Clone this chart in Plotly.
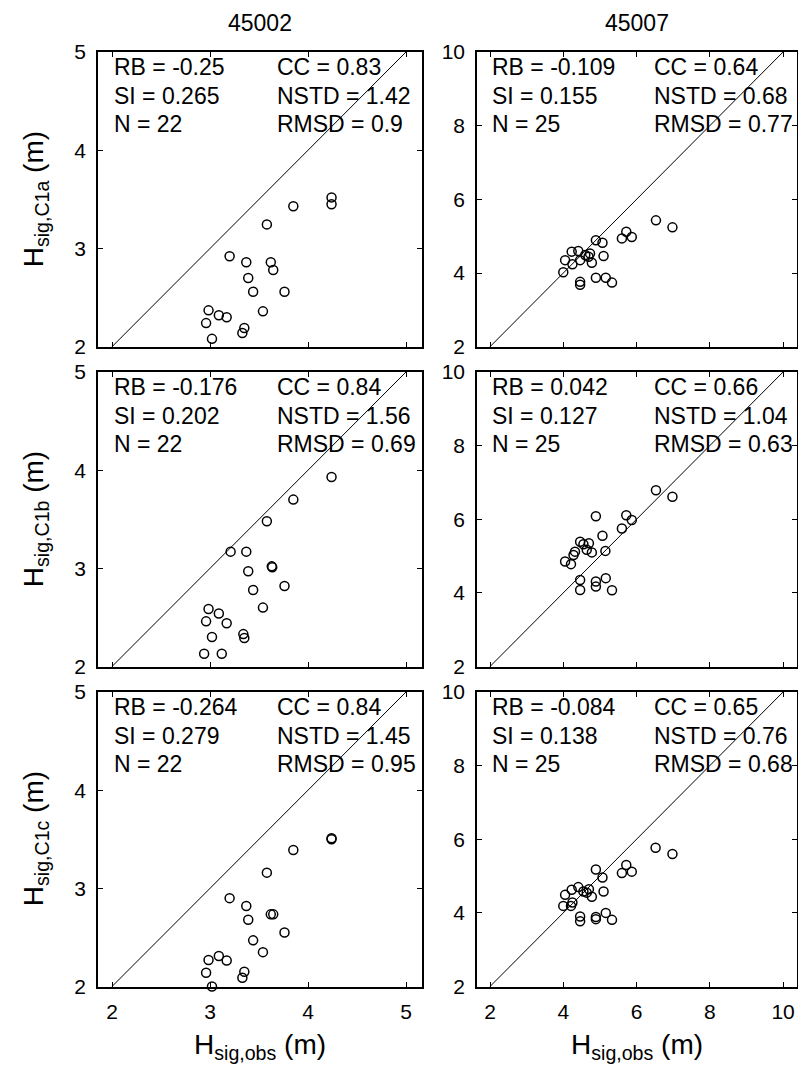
import plotly.graph_objects as go

# ---------------- data ----------------
stations = ["45002", "45007"]
runs = ["C1a", "C1b", "C1c"]

obs_45002_c1a = [4.24, 4.24, 3.85, 3.58, 3.20, 3.37, 3.62, 3.645, 3.39, 3.44, 3.76, 3.54, 2.985, 3.09, 3.17, 2.96, 3.35, 3.33, 3.02]
mod_45002_c1a = [3.52, 3.45, 3.43, 3.245, 2.92, 2.86, 2.86, 2.78, 2.70, 2.56, 2.56, 2.36, 2.37, 2.32, 2.30, 2.24, 2.19, 2.14, 2.08]

obs_45002_c1b = [4.24, 3.85, 3.58, 3.21, 3.37, 3.63, 3.635, 3.39, 3.44, 3.76, 3.54, 2.985, 3.09, 3.17, 2.96, 3.02, 3.34, 3.35, 2.94, 3.12]
mod_45002_c1b = [3.93, 3.70, 3.48, 3.17, 3.17, 3.02, 3.01, 2.97, 2.78, 2.82, 2.60, 2.585, 2.54, 2.44, 2.46, 2.30, 2.33, 2.29, 2.13, 2.13]

obs_45002_c1c = [4.24, 4.24, 3.85, 3.58, 3.20, 3.37, 3.39, 3.62, 3.645, 3.76, 3.44, 3.54, 2.985, 3.09, 3.17, 2.96, 3.35, 3.33, 3.02]
mod_45002_c1c = [3.51, 3.50, 3.39, 3.16, 2.90, 2.82, 2.68, 2.735, 2.735, 2.55, 2.47, 2.35, 2.27, 2.31, 2.265, 2.14, 2.15, 2.09, 2.00]

obs_45007_c1a = [6.53, 6.98, 5.72, 5.60, 5.87, 4.89, 5.07, 5.10, 4.05, 4.23, 4.41, 4.46, 4.60, 4.69, 4.73, 4.25, 4.78, 4.00, 4.46, 4.46, 4.89, 5.16, 5.33]
mod_45007_c1a = [5.43, 5.24, 5.12, 4.94, 4.98, 4.89, 4.82, 4.46, 4.35, 4.58, 4.60, 4.35, 4.49, 4.44, 4.53, 4.24, 4.28, 4.02, 3.76, 3.68, 3.87, 3.87, 3.74]

obs_45007_c1b = [6.53, 6.98, 4.89, 5.72, 5.60, 5.87, 5.07, 4.46, 4.55, 4.70, 4.64, 4.78, 5.15, 4.28, 4.05, 4.21, 4.32, 4.46, 4.46, 4.89, 4.89, 5.16, 5.33]
mod_45007_c1b = [6.79, 6.61, 6.08, 6.11, 5.75, 5.98, 5.55, 5.39, 5.32, 5.35, 5.17, 5.10, 5.14, 5.03, 4.85, 4.78, 5.12, 4.35, 4.08, 4.31, 4.17, 4.40, 4.07]

obs_45007_c1c = [6.52, 6.98, 5.72, 5.60, 5.87, 4.89, 5.07, 5.10, 4.05, 4.23, 4.41, 4.55, 4.70, 4.64, 4.78, 4.25, 4.00, 4.21, 4.46, 4.46, 4.89, 4.89, 5.16, 5.33]
mod_45007_c1c = [5.77, 5.60, 5.30, 5.08, 5.12, 5.18, 4.96, 4.58, 4.49, 4.63, 4.70, 4.58, 4.64, 4.55, 4.44, 4.28, 4.19, 4.19, 3.90, 3.77, 3.89, 3.83, 4.00, 3.81]

stats_rb = [["-0.25", "-0.109"], ["-0.176", "0.042"], ["-0.264", "-0.084"]]
stats_si = [["0.265", "0.155"], ["0.202", "0.127"], ["0.279", "0.138"]]
stats_n = [["22", "25"], ["22", "25"], ["22", "25"]]
stats_cc = [["0.83", "0.64"], ["0.84", "0.66"], ["0.84", "0.65"]]
stats_nstd = [["1.42", "0.68"], ["1.56", "1.04"], ["1.45", "0.76"]]
stats_rmsd = [["0.9", "0.77"], ["0.69", "0.63"], ["0.95", "0.68"]]

ticks_45002 = [2, 3, 4, 5]
ticks_45007 = [2, 4, 6, 8, 10]
one_to_one_45002 = [2, 5]
one_to_one_45007 = [2, 10]

panel_data = [
    [(obs_45002_c1a, mod_45002_c1a), (obs_45007_c1a, mod_45007_c1a)],
    [(obs_45002_c1b, mod_45002_c1b), (obs_45007_c1b, mod_45007_c1b)],
    [(obs_45002_c1c, mod_45002_c1c), (obs_45007_c1c, mod_45007_c1c)],
]

# ---------------- layout geometry ----------------
W, H = 798, 1072
col_px = [(98, 422), (477, 797)]
row_px = [(52, 346.7), (372, 666.5), (692, 986.5)]
x_ranges = [[1.857, 5.163], [1.645, 10.38]]
y_ranges = [[2, 5], [2, 10]]
tickvals = [ticks_45002, ticks_45007]
diag = [one_to_one_45002, one_to_one_45007]

FONT = "Liberation Sans, Arial, Helvetica, sans-serif"

fig = go.Figure()
layout = dict(
    width=W, height=H,
    margin=dict(l=0, r=0, t=0, b=0),
    paper_bgcolor="white", plot_bgcolor="white",
    template="none", showlegend=False,
    font=dict(family=FONT, color="black"),
)
annotations = []

for r in range(3):
    for c in range(2):
        i = r * 2 + c + 1
        sx = "" if i == 1 else str(i)
        x0, x1 = col_px[c]
        y0, y1 = row_px[r]
        xd = [x0 / W, x1 / W]
        yd = [1 - y1 / H, 1 - y0 / H]
        axis_common = dict(
            showgrid=False, zeroline=False, showline=True, mirror="ticks",
            linecolor="black", linewidth=1.6, ticks="inside", ticklen=5,
            tickwidth=1, tickcolor="black", layer="below traces",
            tickfont=dict(family=FONT, size=21, color="black"),
        )
        layout["xaxis" + sx] = dict(
            axis_common, domain=xd, range=x_ranges[c], anchor="y" + sx,
            tickvals=tickvals[c], showticklabels=(r == 2), ticklabelstandoff=5,
        )
        layout["yaxis" + sx] = dict(
            axis_common, domain=yd, range=y_ranges[c], anchor="x" + sx,
            tickvals=tickvals[c], ticklabelstandoff=6,
        )
        d = diag[c]
        fig.add_trace(go.Scatter(
            x=d, y=d, mode="lines", line=dict(color="black", width=1),
            xaxis="x" + sx, yaxis="y" + sx, hoverinfo="skip",
        ))
        xo, ym = panel_data[r][c]
        fig.add_trace(go.Scatter(
            x=xo, y=ym, mode="markers", cliponaxis=False,
            marker=dict(symbol="circle-open", size=9, color="black",
                        line=dict(color="black", width=1.5)),
            xaxis="x" + sx, yaxis="y" + sx,
        ))
        left_x = 0.043 if c == 0 else 0.041
        right_x = 0.546 if c == 0 else 0.547
        lines_y = [0.95, 0.851, 0.756]
        left_txt = ["RB = " + stats_rb[r][c], "SI = " + stats_si[r][c], "N = " + stats_n[r][c]]
        right_txt = ["CC = " + stats_cc[r][c], "NSTD = " + stats_nstd[r][c], "RMSD = " + stats_rmsd[r][c]]
        for k in range(3):
            for xx, txt in ((left_x, left_txt[k]), (right_x, right_txt[k])):
                annotations.append(dict(
                    text=txt, x=xx, y=lines_y[k], xref="x" + sx + " domain",
                    yref="y" + sx + " domain", xanchor="left", yanchor="middle",
                    showarrow=False, font=dict(family=FONT, size=23, color="black"),
                ))
        if c == 0:
            annotations.append(dict(
                text="H<sub>sig," + runs[r] + "</sub> (m)", textangle=-90,
                x=35 / W, y=1 - ((y0 + y1) / 2) / H, xref="paper", yref="paper",
                xanchor="center", yanchor="middle", showarrow=False,
                font=dict(family=FONT, size=28, color="black"),
            ))
        if r == 0:
            annotations.append(dict(
                text=stations[c], x=((x0 + x1) / 2) / W, y=1 - 23 / H,
                xref="paper", yref="paper", xanchor="center", yanchor="middle",
                showarrow=False, font=dict(family=FONT, size=23, color="black"),
            ))
        if r == 2:
            annotations.append(dict(
                text="H<sub>sig,obs</sub> (m)", x=((x0 + x1) / 2) / W, y=1 - 1046 / H,
                xref="paper", yref="paper", xanchor="center", yanchor="middle",
                showarrow=False, font=dict(family=FONT, size=28, color="black"),
            ))

layout["annotations"] = annotations
fig.update_layout(**layout)
fig.write_html("out.html")
